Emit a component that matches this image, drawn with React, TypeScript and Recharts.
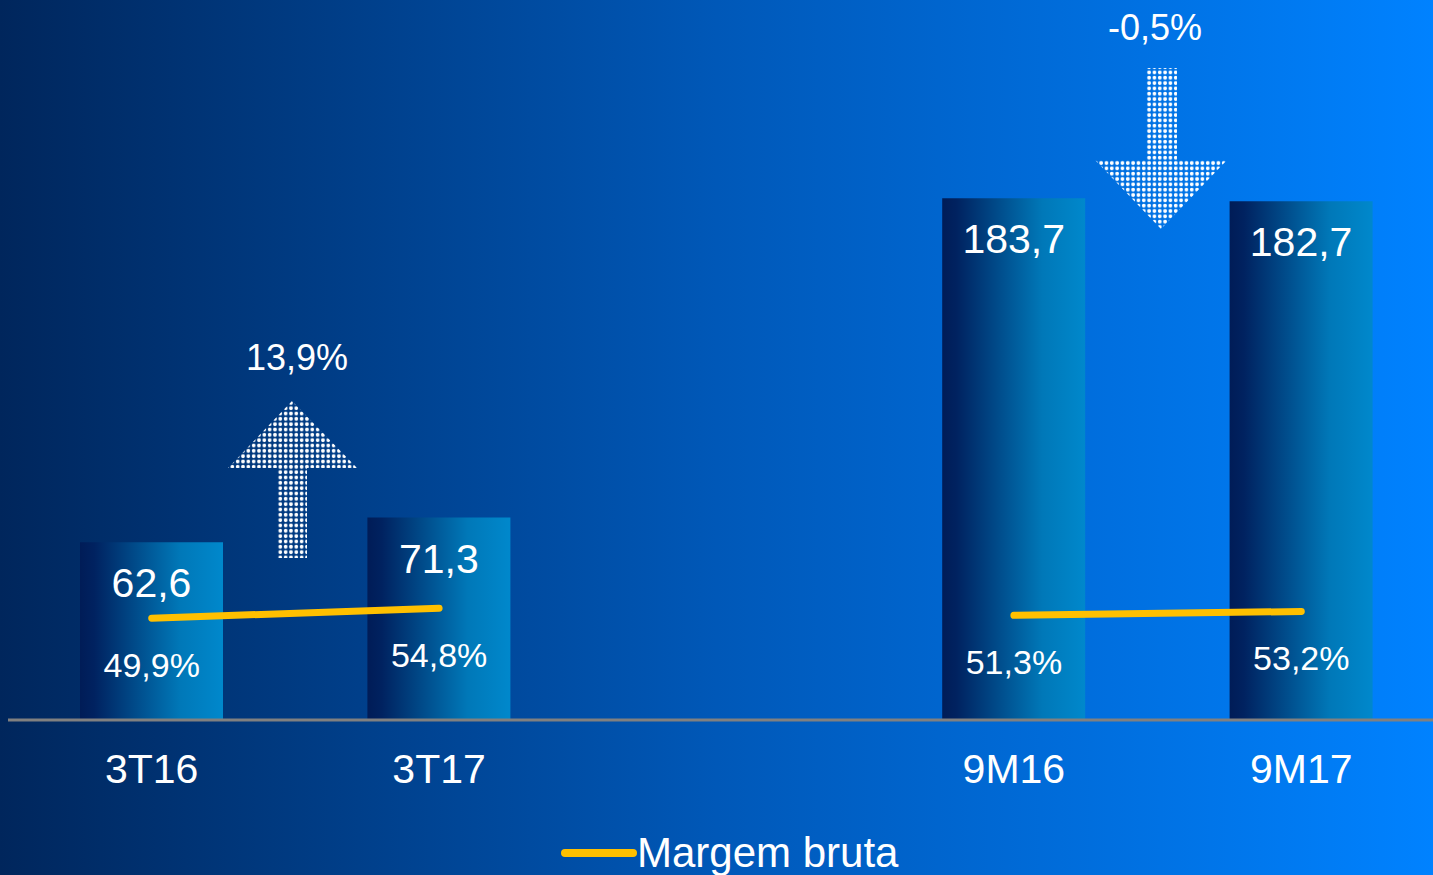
import React from 'react'
import { ComposedChart, Bar, Line, XAxis, YAxis, Legend, LabelList } from 'recharts'

// gross profit (R$ mi) and gross margin (%) per period; the blank slot splits quarter vs 9 months
const periods = ['3T16', '3T17', '', '9M16', '9M17']
const grossProfit = [62.6, 71.3, null, 183.7, 182.7]
const grossMargin = [49.9, 54.8, null, 51.3, 53.2]
const variations = ['13,9%', '-0,5%']

const FONT = '"Liberation Sans", Arial, sans-serif'
const YELLOW = '#ffc000'
const W = 1445
const H = 875

const data = periods.map((p, i) => ({ period: p, lucro: grossProfit[i], margem: grossMargin[i] }))

const fmt = (v: number) => v.toFixed(1).replace('.', ',')

const BarValue = (props: any) => {
  const { x, y, width, value } = props
  if (value == null) return null
  return (
    <text x={x + width / 2} y={y + 55} textAnchor="middle" fill="#fff" fontSize={41} fontFamily={FONT}>
      {fmt(value)}
    </text>
  )
}

const MarginValue = (props: any) => {
  const { x, y, value } = props
  if (value == null) return null
  return (
    <text x={x} y={y + 59} textAnchor="middle" fill="#fff" fontSize={34} fontFamily={FONT}>
      {fmt(value)}%
    </text>
  )
}

const PeriodTick = ({ x, y, payload }: any) => (
  <text x={x} y={y + 55} textAnchor="middle" fill="#fff" fontSize={41} fontFamily={FONT}>
    {payload.value}
  </text>
)

const renderLegend = () => (
  <svg width={W} height={55} style={{ display: 'block' }}>
    <line x1={565} y1={33} x2={633} y2={33} stroke={YELLOW} strokeWidth={8} strokeLinecap="round" />
    <text x={637} y={47} fill="#fff" fontSize={42} fontFamily={FONT}>
      Margem bruta
    </text>
  </svg>
)

/* dotted arrows with the period variation */
function Arrows() {
  return (
    <svg width={1433} height={875} style={{ position: 'absolute', left: 0, top: 0, pointerEvents: 'none' }}>
      <defs>
        <pattern id="dots" x={0.5} y={0.5} width={5.33} height={5.33} patternUnits="userSpaceOnUse">
          <circle cx={2.66} cy={2.66} r={1.9} fill="#fff" />
        </pattern>
      </defs>
      <polygon points="292,401 357,468 307,468 307,558 277,558 277,468 228,468" fill="url(#dots)" />
      <polygon points="1146,68 1177,68 1177,160 1227,160 1161,229 1095,160 1146,160" fill="url(#dots)" />
      <text x={297} y={370} textAnchor="middle" fill="#fff" fontSize={36} fontFamily={FONT}>
        {variations[0]}
      </text>
      <text x={1155} y={40} textAnchor="middle" fill="#fff" fontSize={36} fontFamily={FONT}>
        {variations[1]}
      </text>
    </svg>
  )
}

export default function App() {
  return (
    <div
      style={{
        position: 'absolute',
        left: 0,
        top: 0,
        width: 1433,
        height: 875,
        overflow: 'hidden',
        background: 'linear-gradient(to right, #00265c 0%, #0058b8 50%, #0082ff 100%)',
      }}
    >
      <ComposedChart width={W} height={H} data={data} margin={{ top: 10, right: 0, bottom: 0, left: 8 }}>
        <defs>
          <linearGradient id="barGrad" x1="0" y1="0" x2="1" y2="0">
            <stop offset="0%" stopColor="#001c57" />
            <stop offset="10%" stopColor="#002260" />
            <stop offset="70%" stopColor="#0078b8" />
            <stop offset="100%" stopColor="#0088cc" />
          </linearGradient>
        </defs>
        <XAxis
          dataKey="period"
          height={100}
          tickLine={false}
          axisLine={{ stroke: '#808080', strokeWidth: 3 }}
          tick={<PeriodTick />}
          interval={0}
        />
        <YAxis yAxisId="left" domain={[0, 250]} hide />
        <YAxis yAxisId="right" orientation="right" domain={[0, 348]} hide />
        <Legend verticalAlign="bottom" content={renderLegend} wrapperStyle={{ left: 0, width: W, bottom: 0 }} />
        <Bar yAxisId="left" dataKey="lucro" barSize={143} fill="url(#barGrad)" isAnimationActive={false}>
          <LabelList dataKey="lucro" content={<BarValue />} />
        </Bar>
        <Line
          yAxisId="right"
          dataKey="margem"
          type="linear"
          stroke={YELLOW}
          strokeWidth={7}
          strokeLinecap="round"
          dot={false}
          activeDot={false}
          connectNulls={false}
          isAnimationActive={false}
        >
          <LabelList dataKey="margem" content={<MarginValue />} />
        </Line>
      </ComposedChart>
      <Arrows />
    </div>
  )
}
